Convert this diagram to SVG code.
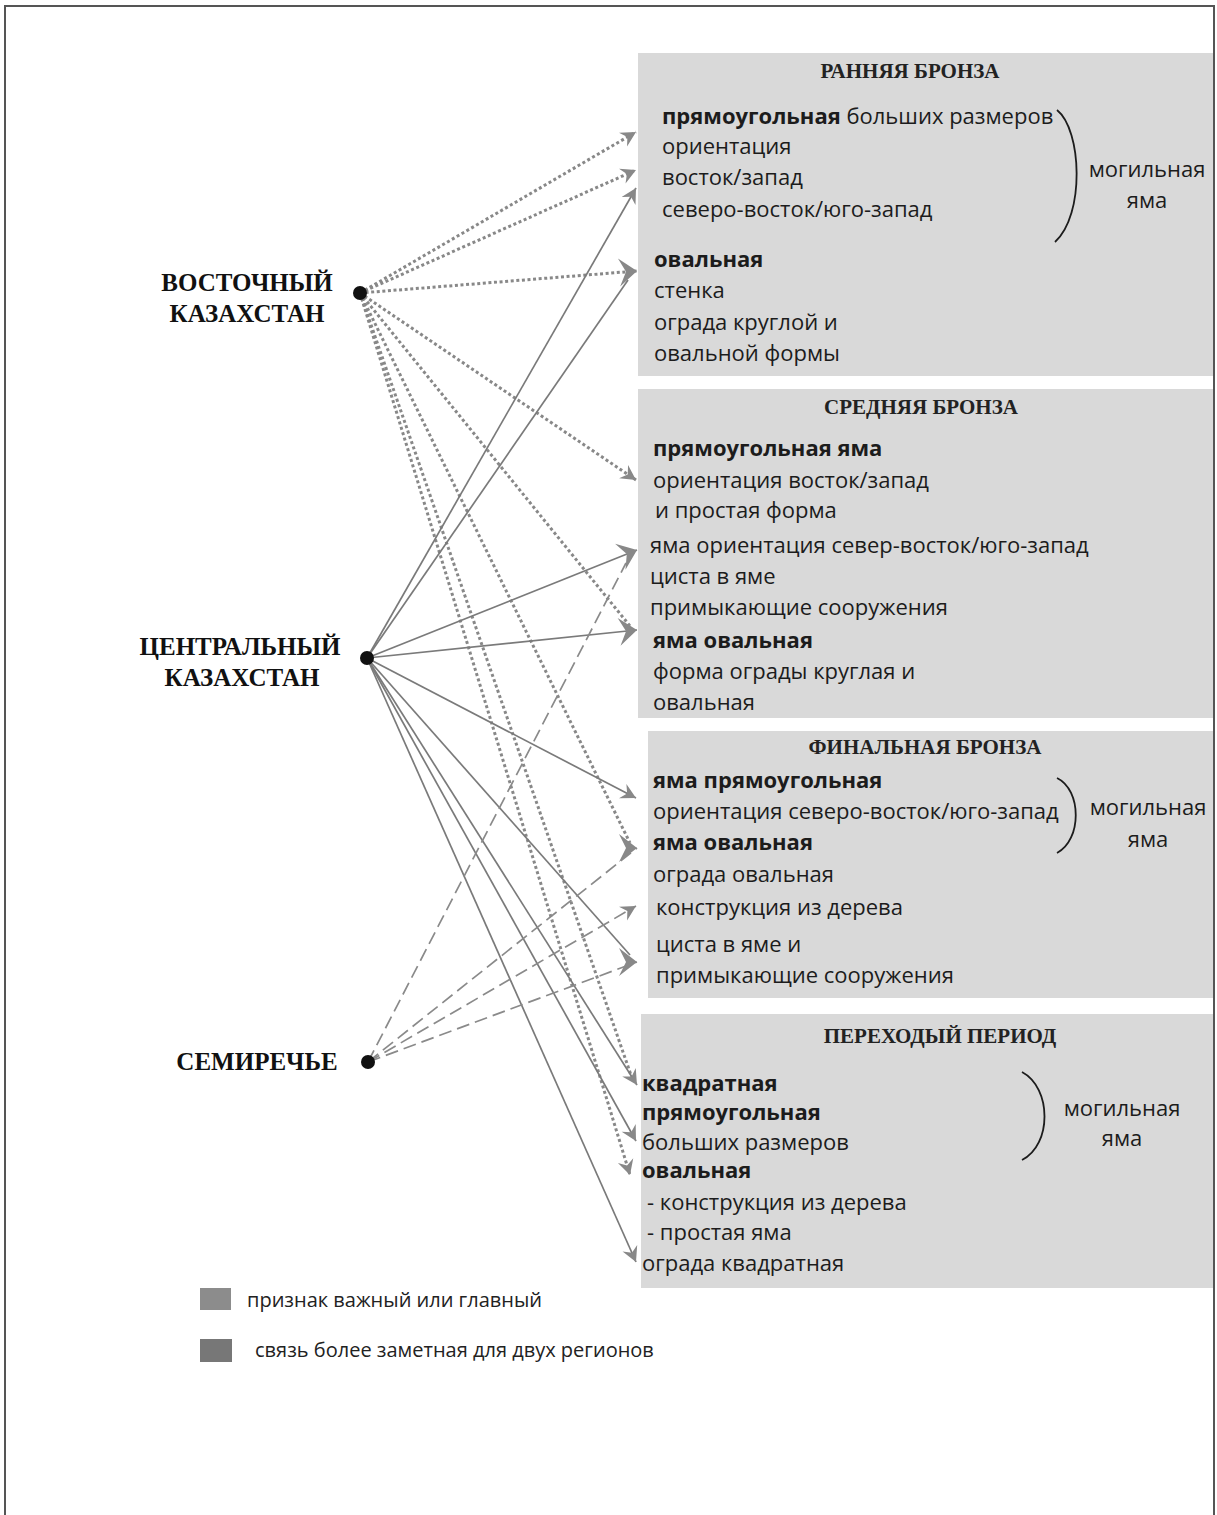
<svg xmlns="http://www.w3.org/2000/svg" width="1217" height="1515" viewBox="0 0 1217 1515">
<style>
  .box { fill: #d9d9d9; }
  .t { font-family: "Open Sans", "Noto Sans", "Liberation Sans", sans-serif; font-size: 22px; fill: #1c1c1c; }
  .b { font-weight: bold; }
  .title { font-family: "Liberation Serif", "Times New Roman", serif; font-size: 21px; font-weight: bold; fill: #222; text-anchor: middle; }
  .region { font-family: "Liberation Serif", "Times New Roman", serif; font-size: 25px; font-weight: bold; fill: #111; text-anchor: middle; }
  .mid { text-anchor: middle; }
  .br { fill: none; stroke: #1c1c1c; stroke-width: 1.8; }
  .dot { fill: #111; }
  .dotted { fill: none; stroke: #888; stroke-width: 3; stroke-dasharray: 3 2.6; }
  .solid { fill: none; stroke: #7a7a7a; stroke-width: 1.7; }
  .dashed { fill: none; stroke: #8a8a8a; stroke-width: 1.7; stroke-dasharray: 13 6; }
  .leg { font-family: "Open Sans", "Noto Sans", "Liberation Sans", sans-serif; font-size: 20px; fill: #222; }
</style>
<defs>
  <marker id="sm" viewBox="-16 -9 18 18" refX="0" refY="0" markerWidth="18" markerHeight="18" markerUnits="userSpaceOnUse" orient="auto">
    <path d="M0,0 L-15,-8 L-10,0 L-15,8 Z" fill="#888"/>
  </marker>
  <marker id="lg" viewBox="-20 -16 22 32" refX="0" refY="0" markerWidth="22" markerHeight="32" markerUnits="userSpaceOnUse" orient="auto">
    <path d="M0,0 L-18,-14 L-11,0 L-18,14 Z" fill="#888"/>
  </marker>
  <marker id="lg0" viewBox="-20 -16 22 32" refX="0" refY="0" markerWidth="22" markerHeight="32" markerUnits="userSpaceOnUse" orient="0">
    <path d="M0,0 L-18,-14 L-11,0 L-18,14 Z" fill="#888"/>
  </marker>
</defs>

<rect x="0" y="0" width="1217" height="1515" fill="#ffffff"/>
<path d="M5,1515 L5,6 L1214,6 L1214,1515" fill="none" stroke="#555" stroke-width="2"/>

<g id="early-bronze">
  <rect class="box" x="638" y="53" width="575" height="323"/>
  <text class="title" x="910" y="78">РАННЯЯ БРОНЗА</text>
  <text class="t" x="662" y="124"><tspan class="b">прямоугольная</tspan> больших размеров</text>
  <text class="t" x="662" y="154">ориентация</text>
  <text class="t" x="662" y="185">восток/запад</text>
  <text class="t" x="662" y="217">северо-восток/юго-запад</text>
  <text class="t b" x="654" y="267">овальная</text>
  <text class="t" x="654" y="298">стенка</text>
  <text class="t" x="654" y="330">ограда круглой и</text>
  <text class="t" x="654" y="361">овальной формы</text>
  <path class="br" d="M1057,110 C1082,130 1085,215 1055,242"/>
  <text class="t mid" x="1147" y="177">могильная</text>
  <text class="t mid" x="1147" y="208">яма</text>
</g>

<g id="middle-bronze">
  <rect class="box" x="638" y="389" width="575" height="329"/>
  <text class="title" x="921" y="414">СРЕДНЯЯ БРОНЗА</text>
  <text class="t b" x="653" y="456">прямоугольная яма</text>
  <text class="t" x="653" y="488">ориентация восток/запад</text>
  <text class="t" x="655" y="518">и простая форма</text>
  <text class="t" x="650" y="553">яма ориентация север-восток/юго-запад</text>
  <text class="t" x="650" y="584">циста в яме</text>
  <text class="t" x="650" y="615">примыкающие сооружения</text>
  <text class="t b" x="653" y="648">яма овальная</text>
  <text class="t" x="653" y="679">форма ограды круглая и</text>
  <text class="t" x="653" y="710">овальная</text>
</g>

<g id="final-bronze">
  <rect class="box" x="648" y="731" width="565" height="267"/>
  <text class="title" x="925" y="754">ФИНАЛЬНАЯ БРОНЗА</text>
  <text class="t b" x="653" y="788">яма прямоугольная</text>
  <text class="t" x="653" y="819">ориентация северо-восток/юго-запад</text>
  <text class="t b" x="653" y="850">яма овальная</text>
  <text class="t" x="653" y="882">ограда овальная</text>
  <text class="t" x="656" y="915">конструкция из дерева</text>
  <text class="t" x="656" y="952">циста в яме и</text>
  <text class="t" x="656" y="983">примыкающие сооружения</text>
  <path class="br" d="M1057,778 C1082,790 1082,840 1057,853"/>
  <text class="t mid" x="1148" y="815">могильная</text>
  <text class="t mid" x="1148" y="847">яма</text>
</g>

<g id="transition-period">
  <rect class="box" x="641" y="1014" width="572" height="274"/>
  <text class="title" x="940" y="1043">ПЕРЕХОДЫЙ ПЕРИОД</text>
  <text class="t b" x="642" y="1091">квадратная</text>
  <text class="t b" x="642" y="1120">прямоугольная</text>
  <text class="t" x="642" y="1150">больших размеров</text>
  <text class="t b" x="642" y="1178">овальная</text>
  <text class="t" x="647" y="1210">- конструкция из дерева</text>
  <text class="t" x="647" y="1240">- простая яма</text>
  <text class="t" x="642" y="1271">ограда квадратная</text>
  <path class="br" d="M1022,1072 C1052,1088 1052,1145 1022,1160"/>
  <text class="t mid" x="1122" y="1116">могильная</text>
  <text class="t mid" x="1122" y="1146">яма</text>
</g>

<g id="connectors">
  <!-- dotted: Восточный Казахстан -->
  <line class="dotted" x1="360" y1="293" x2="636" y2="132" marker-end="url(#sm)"/>
  <line class="dotted" x1="360" y1="293" x2="636" y2="170" marker-end="url(#sm)"/>
  <line class="dotted" x1="360" y1="293" x2="637" y2="271" marker-end="url(#lg)"/>
  <line class="dotted" x1="360" y1="293" x2="636" y2="480" marker-end="url(#sm)"/>
  <line class="dotted" x1="360" y1="293" x2="630" y2="626"/>
  <line class="dotted" x1="360" y1="293" x2="630" y2="843"/>
  <line class="dotted" x1="360" y1="293" x2="632" y2="1078"/>
  <line class="dotted" x1="360" y1="293" x2="630" y2="1175" marker-end="url(#sm)"/>
  <!-- solid: Центральный Казахстан -->
  <line class="solid" x1="367" y1="658" x2="636" y2="188" marker-end="url(#sm)"/>
  <line class="solid" x1="367" y1="658" x2="628" y2="280"/>
  <line class="solid" x1="367" y1="658" x2="637" y2="550" marker-end="url(#lg)"/>
  <line class="solid" x1="367" y1="658" x2="637" y2="630" marker-end="url(#lg)"/>
  <line class="solid" x1="367" y1="658" x2="636" y2="798" marker-end="url(#sm)"/>
  <line class="solid" x1="367" y1="658" x2="630" y2="955"/>
  <line class="solid" x1="367" y1="658" x2="637" y2="1085" marker-end="url(#sm)"/>
  <line class="solid" x1="367" y1="658" x2="636" y2="1141" marker-end="url(#sm)"/>
  <line class="solid" x1="367" y1="658" x2="636" y2="1262" marker-end="url(#sm)"/>
  <!-- dashed: Семиречье -->
  <line class="dashed" x1="368" y1="1062" x2="626" y2="563"/>
  <line class="dashed" x1="368" y1="1062" x2="637" y2="848" marker-end="url(#lg0)"/>
  <line class="dashed" x1="368" y1="1062" x2="636" y2="906" marker-end="url(#sm)"/>
  <line class="dashed" x1="368" y1="1062" x2="637" y2="962" marker-end="url(#lg0)"/>
</g>

<g id="east-kazakhstan">
  <circle class="dot" cx="360" cy="293" r="7"/>
  <text class="region" x="247" y="291">ВОСТОЧНЫЙ</text>
  <text class="region" x="247" y="322">КАЗАХСТАН</text>
</g>

<g id="central-kazakhstan">
  <circle class="dot" cx="367" cy="658" r="7"/>
  <text class="region" x="240" y="655">ЦЕНТРАЛЬНЫЙ</text>
  <text class="region" x="242" y="686">КАЗАХСТАН</text>
</g>

<g id="semirechye">
  <circle class="dot" cx="368" cy="1062" r="7"/>
  <text class="region" x="257" y="1070">СЕМИРЕЧЬЕ</text>
</g>

<g id="legend">
  <rect x="200" y="1288" width="31" height="22" fill="#8c8c8c"/>
  <text class="leg" x="247" y="1307">признак важный или главный</text>
  <rect x="200" y="1339" width="32" height="23" fill="#777777"/>
  <text class="leg" x="255" y="1357">связь более заметная для двух регионов</text>
</g>
</svg>
